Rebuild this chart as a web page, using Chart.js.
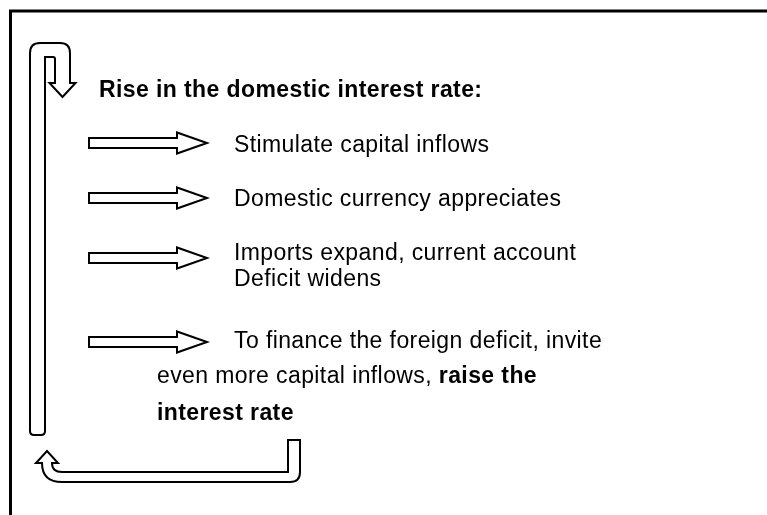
<!DOCTYPE html>
<html>
<head>
<meta charset="utf-8">
<title>Interest rate spiral</title>
<script src="https://cdn.jsdelivr.net/npm/chart.js@4.4.1/dist/chart.umd.min.js"></script>
<style>
  html, body { margin: 0; padding: 0; background: #fff; }
  #wrap { width: 767px; height: 515px; }
</style>
</head>
<body>
<div id="wrap"><canvas id="diagram" width="767" height="515"></canvas></div>
<script>
"use strict";

// text content of the diagram
const HEADING = "Rise in the domestic interest rate:";
const STEP_LINES = [
  ["Stimulate capital inflows"],
  ["Domestic currency appreciates"],
  ["Imports expand, current account", "Deficit widens"],
  ["To finance the foreign deficit, invite"],
];
// continuation of the last step: runs of [text, bold]
const TAIL_LINES = [
  [["even more capital inflows, ", false], ["raise the", true]],
  [["interest rate", true]],
];

// layout, in the 767 x 515 value space of the hidden axes
const LAYOUT = {
  heading: { x: 99, y: 97 },
  arrowY: [143, 198, 258, 342],
  textX: 234,
  lineBase: [[152], [206], [260, 286], [348]],
  tail: { x: 157, y: [383, 420] },
};

const FONT = '"Liberation Sans", Arial, Helvetica, sans-serif';
const FONT_PX = 23;
const SPACING = "0.4px";

function px(chart, x, y) {
  return [chart.scales.x.getPixelForValue(x), chart.scales.y.getPixelForValue(y)];
}

// draws a closed outline given as a list of ops in value space
function outline(chart, ops) {
  const ctx = chart.ctx;
  ctx.beginPath();
  ops.forEach(op => {
    if (op[0] === "M") ctx.moveTo(...px(chart, op[1], op[2]));
    else if (op[0] === "L") ctx.lineTo(...px(chart, op[1], op[2]));
    else if (op[0] === "Q") {
      const c = px(chart, op[1], op[2]);
      const e = px(chart, op[3], op[4]);
      ctx.quadraticCurveTo(c[0], c[1], e[0], e[1]);
    }
  });
  ctx.closePath();
  ctx.fillStyle = "#fff";
  ctx.fill();
  ctx.lineWidth = 2;
  ctx.strokeStyle = "#000";
  ctx.lineJoin = "miter";
  ctx.stroke();
}

function blockArrow(chart, yc) {
  outline(chart, [
    ["M", 89, yc - 5], ["L", 177, yc - 5], ["L", 177, yc - 10.5],
    ["L", 207, yc], ["L", 177, yc + 10.5], ["L", 177, yc + 5],
    ["L", 89, yc + 5],
  ]);
}

function drawRuns(ctx, runs, x, y) {
  let cx = x;
  runs.forEach(([text, bold]) => {
    ctx.font = `${bold ? "bold " : ""}${FONT_PX}px ${FONT}`;
    ctx.fillText(text, cx, y);
    cx += ctx.measureText(text).width;
  });
}

const diagramPlugin = {
  id: "diagram",
  afterDraw(chart) {
    const ctx = chart.ctx;
    ctx.save();

    // frame (top and left edges of the box)
    ctx.strokeStyle = "#000";
    ctx.lineWidth = 3;
    ctx.beginPath();
    ctx.moveTo(...px(chart, 767, 11));
    ctx.lineTo(...px(chart, 10.5, 11));
    ctx.lineTo(...px(chart, 10.5, 515));
    ctx.stroke();

    // long stem with the U-turn down-arrow at the top
    outline(chart, [
      ["M", 30, 431], ["L", 30, 53], ["Q", 30, 43, 40, 43],
      ["L", 60, 43], ["Q", 70, 43, 70, 53], ["L", 70, 83],
      ["L", 75.5, 83], ["L", 62.5, 97], ["L", 49.5, 83], ["L", 55, 83],
      ["L", 55, 59], ["Q", 55, 57, 53, 57], ["L", 45, 57],
      ["L", 45, 431], ["Q", 45, 435, 41, 435], ["L", 34, 435],
      ["Q", 30, 435, 30, 431],
    ]);

    // bottom return arrow pointing up
    outline(chart, [
      ["M", 300, 440], ["L", 300, 472], ["Q", 300, 482, 290, 482],
      ["L", 62, 482], ["Q", 42, 482, 42, 463], ["L", 36, 463],
      ["L", 47, 451], ["L", 58, 463], ["L", 52, 463],
      ["Q", 52, 472, 62, 472], ["L", 288, 472], ["L", 288, 440],
    ]);

    // step arrows
    LAYOUT.arrowY.forEach(y => blockArrow(chart, y));

    // texts
    ctx.fillStyle = "#000";
    ctx.textBaseline = "alphabetic";
    ctx.textAlign = "left";
    if ("letterSpacing" in ctx) ctx.letterSpacing = SPACING;

    ctx.font = `bold ${FONT_PX}px ${FONT}`;
    ctx.fillText(HEADING, ...px(chart, LAYOUT.heading.x, LAYOUT.heading.y));

    ctx.font = `${FONT_PX}px ${FONT}`;
    STEP_LINES.forEach((lines, i) => {
      lines.forEach((line, j) => {
        ctx.fillText(line, ...px(chart, LAYOUT.textX, LAYOUT.lineBase[i][j]));
      });
    });

    TAIL_LINES.forEach((runs, i) => {
      const [x, y] = px(chart, LAYOUT.tail.x, LAYOUT.tail.y[i]);
      drawRuns(ctx, runs, x, y);
    });

    ctx.restore();
  },
};

new Chart(document.getElementById("diagram"), {
  type: "scatter",
  data: {
    datasets: [{
      label: "steps",
      data: LAYOUT.arrowY.map(y => ({ x: 207, y })),
      pointRadius: 0,
      showLine: false,
    }],
  },
  options: {
    responsive: false,
    animation: false,
    devicePixelRatio: 1,
    layout: { padding: 0 },
    events: [],
    scales: {
      x: { type: "linear", min: 0, max: 767, display: false },
      y: { type: "linear", min: 0, max: 515, reverse: true, display: false },
    },
    plugins: { legend: { display: false }, tooltip: { enabled: false } },
  },
  plugins: [diagramPlugin],
});
</script>
</body>
</html>
